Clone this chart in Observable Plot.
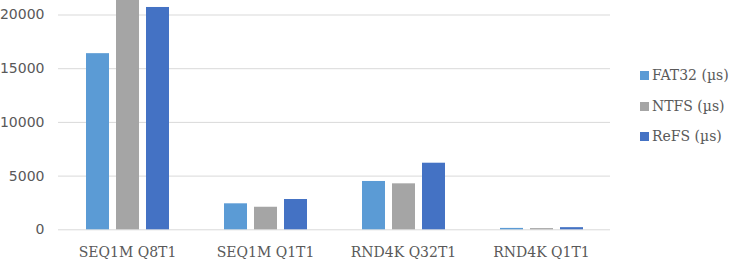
<!DOCTYPE html>
<html>
<head>
<meta charset="utf-8">
<script src="https://cdn.jsdelivr.net/npm/d3@7"></script>
<script src="https://cdn.jsdelivr.net/npm/@observablehq/plot@0.6"></script>
<style>
  html, body { margin: 0; padding: 0; background: #fff; }
  #wrap { position: relative; width: 732px; height: 259px; overflow: hidden; }
  #legend { position: absolute; left: 640px; top: 0; font-family: "DejaVu Serif", "Liberation Serif", serif; font-size: 14px; color: #595959; }
  .item { position: absolute; left: 0; white-space: nowrap; display: flex; align-items: center; }
  .sw { width: 9px; height: 9px; margin-right: 3px; display: inline-block; }
</style>
</head>
<body>
<div id="wrap"><div id="legend"></div></div>
<script>
const categories = ["SEQ1M Q8T1", "SEQ1M Q1T1", "RND4K Q32T1", "RND4K Q1T1"];
const seriesNames = ["FAT32 (µs)", "NTFS (µs)", "ReFS (µs)"];
const fat32 = [16400, 2420, 4500, 130];
const ntfs = [21400, 2100, 4280, 110];
const refs = [20700, 2820, 6200, 200];
const yTicks = [0, 5000, 10000, 15000, 20000];
const colors = ["#5B9BD5", "#A5A5A5", "#4472C4"];

const seriesValues = [fat32, ntfs, refs];
const data = [];
categories.forEach((c, i) => {
  seriesNames.forEach((s, j) => data.push({cat: c, fs: s, value: seriesValues[j][i]}));
});

const chart = Plot.plot({
  width: 732,
  height: 259,
  marginLeft: 57,
  marginRight: 122,
  marginTop: 14.5,
  marginBottom: 29.7,
  style: {background: "transparent", overflow: "visible"},
  fx: {domain: categories, padding: 0, label: null, axis: null},
  x: {domain: seriesNames, paddingInner: 0.24, paddingOuter: 0.87, axis: null},
  y: {domain: [0, 20000], label: null},
  color: {domain: seriesNames, range: colors},
  marks: [
    Plot.gridY(yTicks, {stroke: "#d9d9d9", strokeOpacity: 1, strokeWidth: 1}),
    Plot.barY(data, {fx: "cat", x: "fs", y: "value", fill: "fs"}),
    Plot.axisY(yTicks, {tickSize: 0, tickPadding: 14, tickFormat: d3.format("d"), fontFamily: "DejaVu Sans", fontSize: 14, fill: "#595959", label: null}),
    Plot.axisFx({anchor: "bottom", tickSize: 0, tickPadding: 17, fontFamily: "DejaVu Serif", fontSize: 14, fill: "#595959", label: null})
  ]
});
document.getElementById("wrap").prepend(chart);

const legend = document.getElementById("legend");
const legendY = [75, 106, 136];
seriesNames.forEach((s, j) => {
  const it = document.createElement("div");
  it.className = "item";
  it.style.top = (legendY[j] - 10) + "px";
  it.style.height = "20px";
  const sw = document.createElement("span");
  sw.className = "sw";
  sw.style.background = colors[j];
  it.appendChild(sw);
  it.appendChild(document.createTextNode(s));
  legend.appendChild(it);
});
</script>
</body>
</html>
